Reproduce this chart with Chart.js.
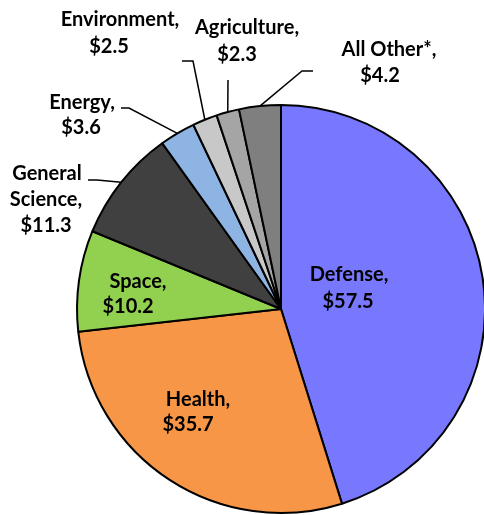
<!DOCTYPE html>
<html>
<head>
<meta charset="utf-8">
<script src="https://cdn.jsdelivr.net/npm/chart.js@4"></script>
<style>
  html, body { margin: 0; padding: 0; background: #fff; }
  #wrap { width: 484px; height: 515px; position: relative; }
</style>
</head>
<body>
<div id="wrap"><canvas id="pieChart" width="484" height="515"></canvas></div>
<script>
// Data (billions of dollars)
const categories = ['Defense', 'Health', 'Space', 'General Science', 'Energy', 'Environment', 'Agriculture', 'All Other*'];
const values = [57.5, 35.7, 10.2, 11.3, 3.6, 2.5, 2.3, 4.2];
const sliceColors = ['#7878FF', '#F79646', '#92D050', '#404040', '#8EB4E3', '#C8C8C8', '#A5A5A5', '#7F7F7F'];

// Where each label's text lines sit, and the elbow of its leader line (if any)
const labelLayout = [
    { lines: [[349, 275], [348, 302]] },
    { lines: [[198, 400], [188, 425]] },
    { lines: [[138, 282], [128, 307]] },
    { lines: [[47, 174], [46, 200], [46, 226]], wrap: true, leader: [[88, 180], [97, 180]] },
    { lines: [[82, 103], [81, 128]], leader: [[121, 108], [129, 108]] },
    { lines: [[120, 20], [109, 47]], leader: [[182, 61], [193, 61]] },
    { lines: [[247, 28], [237, 55]], leader: [[228, 80]] },
    { lines: [[389, 50], [380, 76]], leader: [[313, 71], [302, 71]] }
];

function labelText(i) {
    const name = categories[i];
    const val = '$' + values[i].toFixed(1);
    if (labelLayout[i].wrap) {
        const parts = name.split(' ');
        parts[parts.length - 1] += ',';
        return parts.concat([val]);
    }
    return [name + ',', val];
}

const labelPlugin = {
    id: 'sliceLabels',
    afterDraw(chart) {
        const ctx = chart.ctx;
        const arcs = chart.getDatasetMeta(0).data;
        ctx.save();

        // leader lines
        ctx.strokeStyle = '#000';
        ctx.lineWidth = 1.5;
        arcs.forEach((arc, i) => {
            const lay = labelLayout[i];
            if (!lay.leader) return;
            const p = arc.getProps(['x', 'y', 'startAngle', 'endAngle', 'outerRadius'], true);
            const mid = (p.startAngle + p.endAngle) / 2;
            const ex = p.x + Math.cos(mid) * p.outerRadius;
            const ey = p.y + Math.sin(mid) * p.outerRadius;
            ctx.beginPath();
            ctx.moveTo(lay.leader[0][0], lay.leader[0][1]);
            for (let k = 1; k < lay.leader.length; k++) ctx.lineTo(lay.leader[k][0], lay.leader[k][1]);
            ctx.lineTo(ex, ey);
            ctx.stroke();
        });

        // text
        ctx.fillStyle = '#000';
        ctx.font = 'bold 20px Lato';
        ctx.textAlign = 'center';
        ctx.textBaseline = 'middle';
        labelLayout.forEach((lay, i) => {
            const txt = labelText(i);
            txt.forEach((t, k) => ctx.fillText(t, lay.lines[k][0], lay.lines[k][1]));
        });
        ctx.restore();
    }
};

const ctx = document.getElementById('pieChart').getContext('2d');
new Chart(ctx, {
    type: 'pie',
    data: {
        labels: categories,
        datasets: [{
            data: values,
            backgroundColor: sliceColors,
            borderColor: '#000',
            borderWidth: 2
        }]
    },
    options: {
        responsive: false,
        animation: false,
        radius: 204,
        layout: { padding: { left: 78, right: 0, top: 103, bottom: 0 } },
        plugins: {
            legend: { display: false },
            tooltip: { enabled: false }
        }
    },
    plugins: [labelPlugin]
});
</script>
</body>
</html>
